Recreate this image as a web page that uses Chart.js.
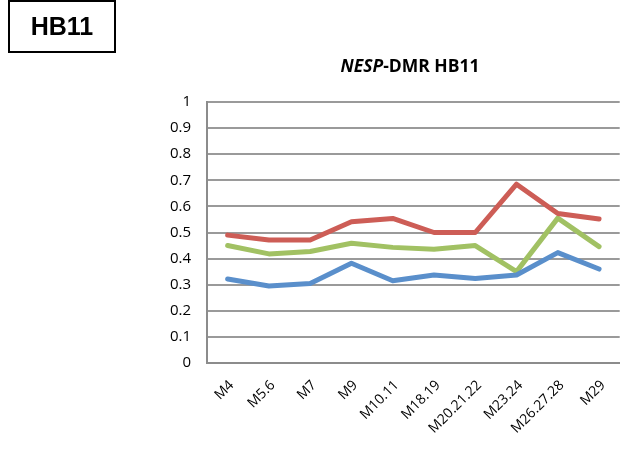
<!DOCTYPE html>
<html>
<head>
<meta charset="utf-8">
<script src="https://cdn.jsdelivr.net/npm/chart.js@4/dist/chart.umd.min.js"></script>
<style>
  html, body { margin: 0; padding: 0; background: #fff; }
  #wrap { position: relative; width: 625px; height: 450px; }
  #box { position: absolute; left: 8px; top: 0px; width: 104px; height: 49px; border: 2px solid #000;
         font: bold 25px "Liberation Sans", Arial, sans-serif; text-align: center; line-height: 49px; color: #000; }
  #title { position: absolute; left: 0; width: 820px; top: 53px; text-align: center;
           font: bold 17.5px "Open Sans", "Liberation Sans", sans-serif; color: #000; }
  canvas { position: absolute; left: 0; top: 0; }
</style>
</head>
<body>
<div id="wrap">
  <canvas id="c" width="625" height="450"></canvas>
  <div id="box">HB11</div>
  <div id="title"><i>NESP</i>-DMR HB11</div>
</div>
<script>
const categories = ["M4", "M5.6", "M7", "M9", "M10.11", "M18.19", "M20.21.22", "M23.24", "M26.27.28", "M29"];
const redValues   = [0.49, 0.471, 0.471, 0.541, 0.554, 0.50, 0.50, 0.685, 0.573, 0.552];
const greenValues = [0.45, 0.418, 0.427, 0.459, 0.443, 0.436, 0.450, 0.35, 0.555, 0.446];
const blueValues  = [0.322, 0.295, 0.305, 0.382, 0.315, 0.337, 0.324, 0.337, 0.423, 0.36];
const yTicks = [0, 0.1, 0.2, 0.3, 0.4, 0.5, 0.6, 0.7, 0.8, 0.9, 1];

const lineStyle = { borderWidth: 5, pointRadius: 0, tension: 0, borderJoinStyle: 'round', borderCapStyle: 'round', fill: false };

new Chart(document.getElementById('c'), {
  type: 'line',
  data: {
    labels: categories,
    datasets: [
      Object.assign({ label: 'blue', data: blueValues, borderColor: '#5A8FCB' }, lineStyle),
      Object.assign({ label: 'red', data: redValues, borderColor: '#CD5D56' }, lineStyle),
      Object.assign({ label: 'green', data: greenValues, borderColor: '#A1C163' }, lineStyle)
    ]
  },
  options: {
    responsive: false,
    animation: false,
    layout: { padding: { top: 102, right: 1, bottom: 0, left: 0 } },
    plugins: { legend: { display: false }, tooltip: { enabled: false } },
    scales: {
      x: {
        offset: true,
        grid: { display: false, drawTicks: false },
        border: { display: true, color: '#8c8c8c', width: 2 },
        ticks: { maxRotation: 45, minRotation: 45, autoSkip: false, padding: 14, labelOffset: 4,
                 color: '#000', font: { family: 'Open Sans', size: 14 } },
        afterFit: (s) => { s.height = 87; }
      },
      y: {
        min: 0, max: 1,
        afterBuildTicks: (s) => { s.ticks = yTicks.map(v => ({ value: v })); },
        grid: { color: '#9a9a9a', lineWidth: 2, drawTicks: false },
        border: { display: true, color: '#8c8c8c', width: 2 },
        ticks: { padding: 16, color: '#000', font: { family: 'Open Sans', size: 15 },
                 callback: (v) => String(Math.round(v * 10) / 10) },
        afterFit: (s) => { s.width = 207; }
      }
    }
  }
});
</script>
</body>
</html>
